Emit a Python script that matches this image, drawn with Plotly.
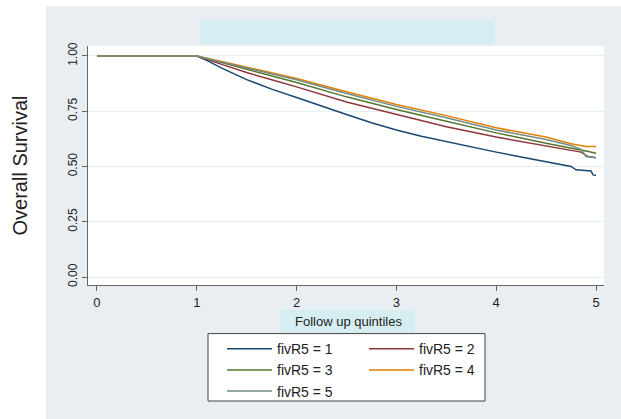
import plotly.graph_objects as go

# ---- data ----
series_names = ["fivR5 = 1", "fivR5 = 2", "fivR5 = 3", "fivR5 = 4", "fivR5 = 5"]
series_colors = ["#1a476f", "#90353b", "#55752f", "#e37e00", "#6e8e84"]

t1 = [0, 1.0, 1.1, 1.25, 1.5, 1.75, 2.0, 2.25, 2.5, 2.75, 3.0, 3.25, 3.5, 3.75, 4.0, 4.25, 4.5, 4.75, 4.8, 4.95, 4.97, 5.0]
s1 = [1, 1.0, 0.980, 0.945, 0.893, 0.850, 0.812, 0.772, 0.735, 0.698, 0.665, 0.637, 0.612, 0.588, 0.565, 0.543, 0.522, 0.500, 0.485, 0.480, 0.462, 0.460]

t2 = [0, 1.0, 1.25, 1.5, 1.75, 2.0, 2.5, 3.0, 3.5, 4.0, 4.5, 4.75, 4.85, 4.92, 5.0]
s2 = [1, 1.0, 0.962, 0.925, 0.892, 0.860, 0.792, 0.735, 0.680, 0.633, 0.594, 0.575, 0.565, 0.545, 0.540]

t3 = [0, 1.0, 1.25, 1.5, 1.75, 2.0, 2.5, 3.0, 3.5, 4.0, 4.5, 4.75, 4.9, 5.0]
s3 = [1, 1.0, 0.970, 0.940, 0.910, 0.880, 0.815, 0.758, 0.705, 0.652, 0.605, 0.585, 0.570, 0.560]

t4 = [0, 1.0, 1.25, 1.5, 1.75, 2.0, 2.5, 3.0, 3.5, 4.0, 4.5, 4.75, 4.9, 5.0]
s4 = [1, 1.0, 0.975, 0.950, 0.924, 0.898, 0.838, 0.780, 0.730, 0.675, 0.633, 0.603, 0.590, 0.590]

t5 = [0, 1.0, 1.25, 1.5, 1.75, 2.0, 2.5, 3.0, 3.5, 4.0, 4.5, 4.75, 4.85, 4.9, 5.0]
s5 = [1, 1.0, 0.972, 0.945, 0.918, 0.892, 0.830, 0.772, 0.720, 0.665, 0.622, 0.595, 0.578, 0.545, 0.540]

x_ticks = [0, 1, 2, 3, 4, 5]
y_ticks = [0.00, 0.25, 0.50, 0.75, 1.00]
y_ticklabels = ["0.00", "0.25", "0.50", "0.75", "1.00"]

times = [t1, t2, t3, t4, t5]
survs = [s1, s2, s3, s4, s5]
legend_ids = ["legend", "legend2", "legend", "legend2", "legend"]

fig = go.Figure()
for name, col, t, s, lg in zip(series_names, series_colors, times, survs, legend_ids):
    fig.add_trace(go.Scatter(x=t, y=s, mode="lines", name=name,
                             line=dict(color=col, width=1.5), legend=lg))

# pixel geometry helpers
W, H = 621, 419
L, R, T, B = 88, 17, 46, 132
pw, ph = W - L - R, H - T - B
def px(x):
    return (x - L) / pw
def py(y):
    return (H - B - y) / ph

BG = "#e8eef1"
CY = "#d6eef1"
shapes = [
    dict(type="rect", xref="paper", yref="paper", x0=px(46), x1=px(640), y0=py(440), y1=py(6),
         fillcolor=BG, line=dict(width=0), layer="below"),
    dict(type="rect", xref="paper", yref="paper", x0=0, x1=1, y0=0, y1=1,
         fillcolor="white", line=dict(width=0), layer="below"),
    dict(type="rect", xref="paper", yref="paper", x0=px(200), x1=px(495), y0=py(44), y1=py(19),
         fillcolor=CY, line=dict(width=0), layer="below"),
    dict(type="rect", xref="paper", yref="paper", x0=px(280), x1=px(415), y0=py(336), y1=py(312),
         fillcolor=CY, line=dict(width=0), layer="below"),
    dict(type="rect", xref="paper", yref="paper", x0=px(208), x1=px(485), y0=py(404), y1=py(336),
         fillcolor="white", line=dict(color="#444444", width=1), layer="below"),
]

font_main = "Liberation Sans, Arial, sans-serif"

fig.update_layout(
    width=W, height=H,
    margin=dict(l=L, r=R, t=T, b=B),
    paper_bgcolor="white",
    plot_bgcolor="white",
    font=dict(family=font_main, color="#222222", size=12),
    shapes=shapes,
    annotations=[
        dict(text="Follow up quintiles", xref="paper", yref="paper", x=px(348), y=py(324),
             showarrow=False, font=dict(size=13, color="#222222"), xanchor="center", yanchor="middle"),
    ],
    legend=dict(x=px(222), y=py(335.5), xanchor="left", yanchor="top", orientation="v",
                bgcolor="rgba(0,0,0,0)", borderwidth=0, font=dict(size=14, color="#222222"),
                tracegroupgap=0, itemwidth=45),
    legend2=dict(x=px(364), y=py(335.5), xanchor="left", yanchor="top", orientation="v",
                 bgcolor="rgba(0,0,0,0)", borderwidth=0, font=dict(size=14, color="#222222"),
                 tracegroupgap=0, itemwidth=45),
    showlegend=True,
)

fig.update_xaxes(
    range=[-0.09, 5.08], tickvals=x_ticks, ticktext=[str(v) for v in x_ticks],
    showgrid=False, zeroline=False,
    showline=True, linecolor="#666666", linewidth=1,
    ticks="outside", ticklen=5, tickcolor="#666666",
    tickfont=dict(size=13, color="#222222"),
)
fig.update_yaxes(
    range=[-0.036, 1.045], tickvals=y_ticks, ticktext=y_ticklabels,
    showgrid=True, gridcolor="#e6eff1", gridwidth=1, zeroline=False,
    showline=True, linecolor="#666666", linewidth=1,
    ticks="outside", ticklen=5, tickcolor="#666666",
    tickangle=-90, tickfont=dict(size=12, color="#222222"),
    title=dict(text="Overall Survival", font=dict(size=20, color="#222222"), standoff=33),
)

fig.write_html("out.html", config={"displayModeBar": False},
               post_script="document.body.style.margin='0';document.body.style.padding='0';")
